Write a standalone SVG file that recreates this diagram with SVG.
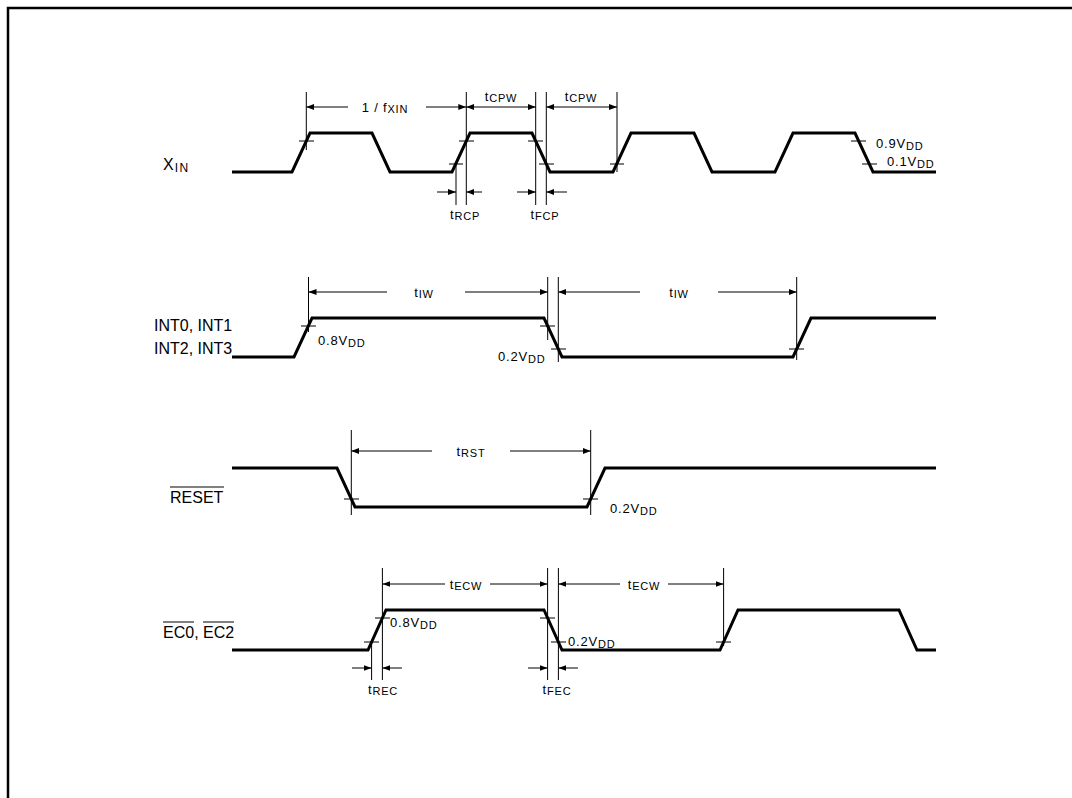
<svg xmlns="http://www.w3.org/2000/svg" width="1072" height="798" viewBox="0 0 1072 798">
<defs>
<marker id="ah" markerUnits="userSpaceOnUse" markerWidth="8" markerHeight="6" refX="8" refY="3" orient="auto-start-reverse"><path d="M0,0 L8,3 L0,6 z" fill="#000"/></marker>
<style>
.w{fill:none;stroke:#000;stroke-width:3;stroke-linejoin:miter}
.t{fill:none;stroke:#000;stroke-width:1}
.a{fill:none;stroke:#000;stroke-width:1;marker-end:url(#ah)}
.sig{font-family:"Liberation Sans",Arial,sans-serif;font-size:16px;fill:#000}
.lb{font-family:"Liberation Sans",Arial,sans-serif;font-size:13px;fill:#000;letter-spacing:0.8px}
.sb{font-size:11px}
</style>
</defs>
<rect width="1072" height="798" fill="#fff"/>
<path d="M8,800 V8 H1075" fill="none" stroke="#000" stroke-width="2.5"/>

<g id="xin">
<text class="sig" x="163" y="170">X<tspan font-size="12" dx="1" dy="2" letter-spacing="1.5">IN</tspan></text>
<path class="w" d="M232,172 H292 L310,133 H372 L390,172 H452 L470,133 H532 L550,172 H613 L631,133 H694 L712,172 H775 L793,133 H855 L873,172 H936"/>
</g>
<g id="int">
<text class="sig" x="154" y="331">INT0, INT1</text>
<text class="sig" x="154" y="354">INT2, INT3</text>
<path class="w" d="M232,357 H294 L312,318 H544 L562,357 H793 L811,318 H936"/>
</g>
<g id="reset">
<text class="sig" x="170" y="503">RESET</text>
<line class="t" x1="170" y1="487" x2="224" y2="487"/>
<path class="w" d="M232,468 H337 L355,507 H587 L605,468 H936"/>
</g>
<g id="ec">
<text class="sig" x="163" y="638">EC0, EC2</text>
<line class="t" x1="163" y1="622" x2="194" y2="622"/>
<line class="t" x1="203" y1="622" x2="234" y2="622"/>
<path class="w" d="M232,650 H368 L386,610 H544 L562,650 H720 L738,610 H899 L917,650 H936"/>
</g>

<g id="connectors">
<path class="t" d="M306.3,92 V150 M456,164 V205 M466.3,92 V205 M535.7,92 V205 M546.3,92 V205 M617,92 V172"/>
<path class="t" d="M299,141 H314 M459,141 H474 M449,164 H463 M528,141 H543 M539,164 H554 M610,164 H624 M851,141 H866 M862,164 H877"/>
<line class="a" x1="348" y1="107" x2="306.3" y2="107"/>
<line class="a" x1="426" y1="107" x2="466.3" y2="107"/>
<line class="a" x1="501" y1="107" x2="466.3" y2="107"/>
<line class="a" x1="501" y1="107" x2="535.7" y2="107"/>
<line class="a" x1="581" y1="107" x2="546.3" y2="107"/>
<line class="a" x1="581" y1="107" x2="617" y2="107"/>
<line class="a" x1="437" y1="192" x2="456" y2="192"/>
<line class="a" x1="482" y1="192" x2="466.3" y2="192"/>
<line class="a" x1="517" y1="192" x2="535.7" y2="192"/>
<line class="a" x1="567" y1="192" x2="546.3" y2="192"/>

<path class="t" d="M308.5,277 V332 M547.7,277 V340 M558.3,277 V362 M796.7,277 V360"/>
<path class="t" d="M301,326 H316 M540,326 H555 M551,349 H566 M789,349 H804"/>
<line class="a" x1="387" y1="292" x2="308.5" y2="292"/>
<line class="a" x1="465" y1="292" x2="547.7" y2="292"/>
<line class="a" x1="640" y1="292" x2="558.3" y2="292"/>
<line class="a" x1="718" y1="292" x2="796.7" y2="292"/>

<path class="t" d="M351.3,430 V515 M590.7,430 V515"/>
<path class="t" d="M344,499 H359 M583,499 H598"/>
<line class="a" x1="432" y1="451" x2="351.3" y2="451"/>
<line class="a" x1="510" y1="451" x2="590.7" y2="451"/>

<path class="t" d="M371.6,640 V680 M382.4,568 V680 M547.6,568 V680 M558.4,568 V680 M723.6,568 V646"/>
<path class="t" d="M375,618 H390 M364,642 H379 M540,618 H555 M551,642 H566 M716,642 H731"/>
<line class="a" x1="445" y1="584" x2="382.4" y2="584"/>
<line class="a" x1="490" y1="584" x2="547.6" y2="584"/>
<line class="a" x1="620" y1="584" x2="558.4" y2="584"/>
<line class="a" x1="668" y1="584" x2="723.6" y2="584"/>
<line class="a" x1="352" y1="668" x2="371.6" y2="668"/>
<line class="a" x1="402" y1="668" x2="382.4" y2="668"/>
<line class="a" x1="528" y1="668" x2="547.6" y2="668"/>
<line class="a" x1="578" y1="668" x2="558.4" y2="668"/>
</g>

<g id="labels">
<text class="lb" x="385" y="112" text-anchor="middle">1 / f<tspan class="sb" dy="1">XIN</tspan></text>
<text class="lb" x="501" y="101" text-anchor="middle">t<tspan class="sb" dy="1">CPW</tspan></text>
<text class="lb" x="581" y="101" text-anchor="middle">t<tspan class="sb" dy="1">CPW</tspan></text>
<text class="lb" x="465" y="219" text-anchor="middle">t<tspan class="sb" dy="1">RCP</tspan></text>
<text class="lb" x="545" y="219" text-anchor="middle">t<tspan class="sb" dy="1">FCP</tspan></text>
<text class="lb" x="876" y="148">0.9V<tspan class="sb" dy="2">DD</tspan></text>
<text class="lb" x="887" y="166">0.1V<tspan class="sb" dy="2">DD</tspan></text>

<text class="lb" x="424" y="297" text-anchor="middle">t<tspan class="sb" dy="1">IW</tspan></text>
<text class="lb" x="679" y="297" text-anchor="middle">t<tspan class="sb" dy="1">IW</tspan></text>
<text class="lb" x="318" y="345">0.8V<tspan class="sb" dy="2">DD</tspan></text>
<text class="lb" x="498" y="361">0.2V<tspan class="sb" dy="2">DD</tspan></text>

<text class="lb" x="471" y="456" text-anchor="middle">t<tspan class="sb" dy="1">RST</tspan></text>
<text class="lb" x="610" y="513">0.2V<tspan class="sb" dy="2">DD</tspan></text>

<text class="lb" x="466" y="589" text-anchor="middle">t<tspan class="sb" dy="1">ECW</tspan></text>
<text class="lb" x="644" y="589" text-anchor="middle">t<tspan class="sb" dy="1">ECW</tspan></text>
<text class="lb" x="390" y="627">0.8V<tspan class="sb" dy="2">DD</tspan></text>
<text class="lb" x="568" y="646">0.2V<tspan class="sb" dy="2">DD</tspan></text>
<text class="lb" x="383" y="694" text-anchor="middle">t<tspan class="sb" dy="1">REC</tspan></text>
<text class="lb" x="557" y="694" text-anchor="middle">t<tspan class="sb" dy="1">FEC</tspan></text>
</g>
</svg>
